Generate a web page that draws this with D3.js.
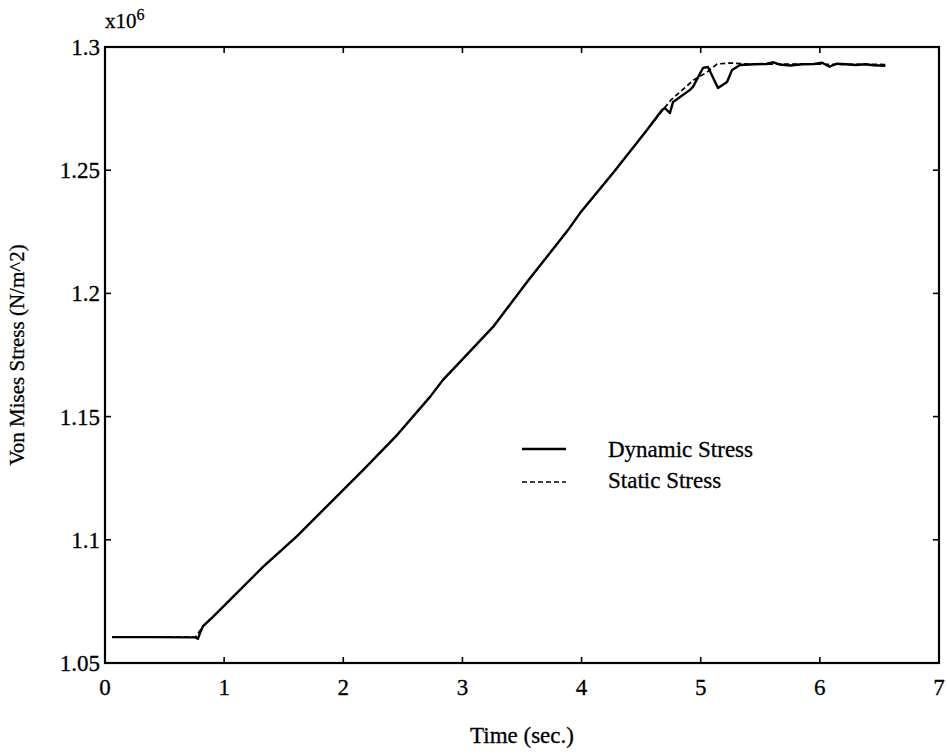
<!DOCTYPE html>
<html><head><meta charset="utf-8">
<script src="https://cdn.jsdelivr.net/npm/d3@7/dist/d3.min.js"></script>
<style>body{margin:0;background:#fff}svg{display:block}text{font-family:"Liberation Serif","Times New Roman",serif;fill:#000;stroke:#000;stroke-width:0.3px}</style>
</head><body><svg id="c" width="947" height="755"></svg>
<script>
const xTicks = [0,1,2,3,4,5,6,7];
const yTicks = [1.05,1.1,1.15,1.2,1.25,1.3];
const yTickLabels = ["1.05","1.1","1.15","1.2","1.25","1.3"];
const seriesNames = ["Dynamic Stress","Static Stress"];
// values in units of 1e6 N/m^2
const dynamicT = [0.06,0.4,0.76,0.78,0.80,0.823,0.906,1.049,1.326,1.612,1.746,1.889,2.166,2.451,2.728,2.837,2.980,3.257,3.542,3.886,3.987,4.264,4.549,4.675,4.700,4.742,4.768,4.910,4.935,5.019,5.061,5.145,5.221,5.263,5.330,5.45,5.55,5.61,5.66,5.75,5.85,5.95,6.02,6.08,6.14,6.22,6.30,6.38,6.45,6.55];
const dynamicV = [1.0605,1.0605,1.0604,1.0598,1.0625,1.0650,1.0687,1.0756,1.0890,1.1015,1.1080,1.1149,1.1283,1.1425,1.1580,1.1649,1.1722,1.1864,1.2046,1.2257,1.2326,1.2489,1.2663,1.2744,1.2752,1.2732,1.2777,1.2826,1.2838,1.2915,1.2919,1.2834,1.2858,1.2907,1.2927,1.2930,1.2931,1.2938,1.2929,1.2925,1.2930,1.2931,1.2936,1.2920,1.2932,1.2930,1.2927,1.2930,1.2926,1.2924];
const staticT = [0.06,0.4,0.76,0.823,0.906,1.049,1.326,1.612,1.746,1.889,2.166,2.451,2.728,2.837,2.980,3.257,3.542,3.886,3.987,4.264,4.549,4.65,4.75,4.94,5.053,5.137,5.246,5.4,6.0,6.55];
const staticV = [1.0605,1.0605,1.0605,1.0650,1.0687,1.0756,1.0890,1.1015,1.1080,1.1149,1.1283,1.1425,1.1580,1.1649,1.1722,1.1864,1.2046,1.2257,1.2326,1.2489,1.2663,1.2725,1.2785,1.2866,1.2898,1.2931,1.2935,1.2931,1.2930,1.2929];

const svg = d3.select("#c");
const L=105,R=939,T=47,B=663;
const x = d3.scaleLinear().domain([0,7]).range([L,R]);
const y = d3.scaleLinear().domain([1.05,1.3]).range([B,T]);

svg.append("rect").attr("x",L).attr("y",T).attr("width",R-L).attr("height",B-T)
  .attr("fill","none").attr("stroke","#000").attr("stroke-width",2.2);

const tl=6;
const gx = svg.append("g");
xTicks.forEach(t=>{
  gx.append("line").attr("x1",x(t)).attr("x2",x(t)).attr("y1",B).attr("y2",B-tl).attr("stroke","#000").attr("stroke-width",1.6);
  gx.append("line").attr("x1",x(t)).attr("x2",x(t)).attr("y1",T).attr("y2",T+tl).attr("stroke","#000").attr("stroke-width",1.6);
  gx.append("text").attr("x",x(t)).attr("y",B+32).attr("text-anchor","middle").attr("font-size",23).text(t);
});
yTicks.forEach((t,i)=>{
  gx.append("line").attr("x1",L).attr("x2",L+tl).attr("y1",y(t)).attr("y2",y(t)).attr("stroke","#000").attr("stroke-width",1.6);
  gx.append("line").attr("x1",R).attr("x2",R-tl).attr("y1",y(t)).attr("y2",y(t)).attr("stroke","#000").attr("stroke-width",1.6);
  gx.append("text").attr("x",L-5).attr("y",y(t)+8).attr("text-anchor","end").attr("font-size",23).text(yTickLabels[i]);
});
const m = svg.append("text").attr("x",L).attr("y",28).attr("font-size",21);
m.append("tspan").text("x10");
m.append("tspan").attr("dy",-8).attr("font-size",16).text("6");

svg.append("text").attr("x",(L+R)/2).attr("y",743).attr("text-anchor","middle").attr("font-size",23).text("Time (sec.)");
svg.append("text").attr("transform","translate(24,"+((T+B)/2)+") rotate(-90)").attr("text-anchor","middle").attr("font-size",21).text("Von Mises Stress (N/m^2)");

const line = d3.line().x(d=>x(d[0])).y(d=>y(d[1]));
const sData = staticT.map((t,i)=>[t,staticV[i]]);
const dData = dynamicT.map((t,i)=>[t,dynamicV[i]]);
svg.append("path").attr("d",line(sData)).attr("fill","none").attr("stroke","#000").attr("stroke-width",1.7).attr("stroke-dasharray","5,3");
svg.append("path").attr("d",line(dData)).attr("fill","none").attr("stroke","#000").attr("stroke-width",2.4).attr("stroke-linejoin","round");

const lg = svg.append("g");
lg.append("line").attr("x1",522).attr("x2",566).attr("y1",449).attr("y2",449).attr("stroke","#000").attr("stroke-width",2.4);
lg.append("line").attr("x1",522).attr("x2",566).attr("y1",482).attr("y2",482).attr("stroke","#000").attr("stroke-width",1.7).attr("stroke-dasharray","5,3");
lg.append("text").attr("x",608).attr("y",457).attr("font-size",23).text(seriesNames[0]);
lg.append("text").attr("x",608).attr("y",488).attr("font-size",23).text(seriesNames[1]);
</script></body></html>
